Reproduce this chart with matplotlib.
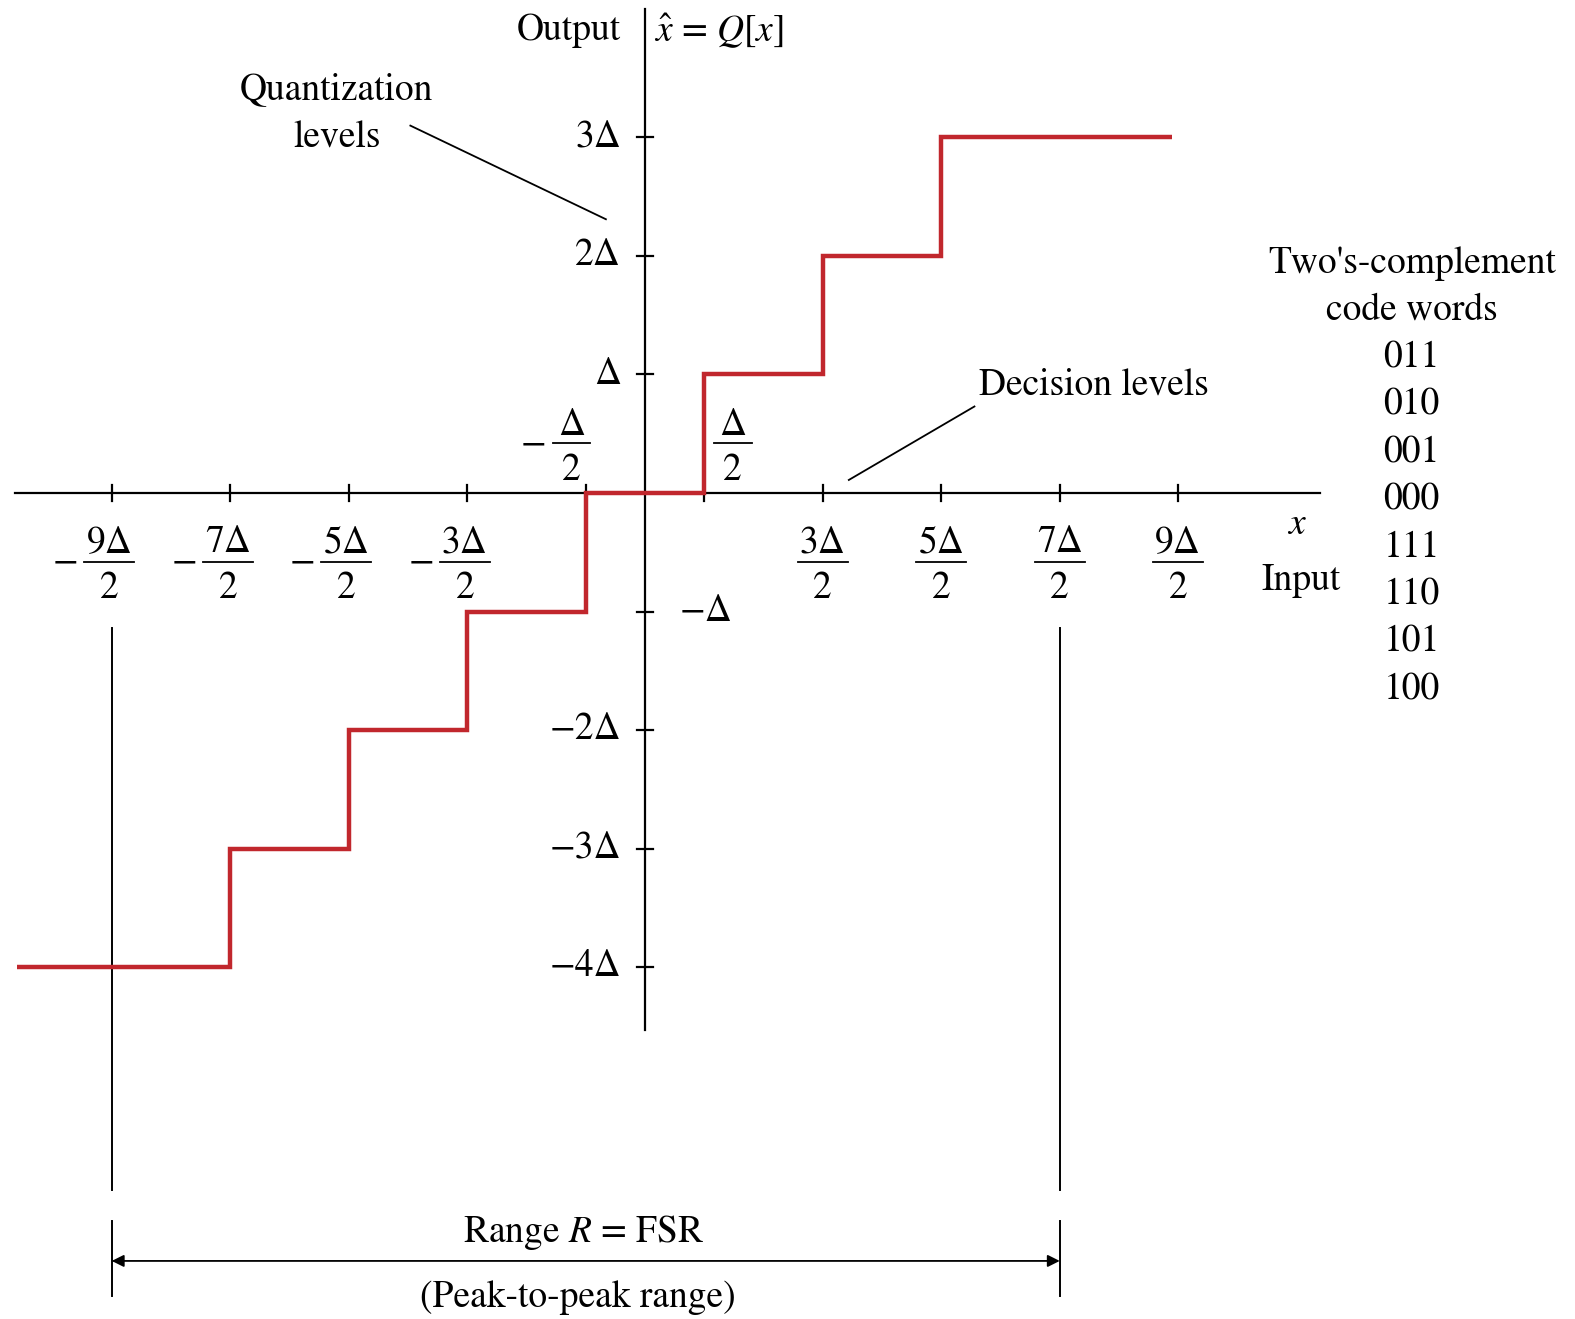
import matplotlib.pyplot as plt
import numpy as np

plt.rcParams['font.family'] = ['STIXGeneral', 'DejaVu Serif']
plt.rcParams['mathtext.fontset'] = 'stix'

# staircase of the quantizer (in units of Delta)
edges = [-5.3, -3.5, -2.5, -1.5, -0.5, 0.5, 1.5, 2.5, 4.45]
levels = [-4, -3, -2, -1, 0, 1, 2, 3]

# decision levels (x ticks) and quantization levels (y ticks)
x_ticks = [-4.5, -3.5, -2.5, -1.5, -0.5, 0.5, 1.5, 2.5, 3.5, 4.5]
x_numer = ['9Δ', '7Δ', '5Δ', '3Δ', 'Δ', 'Δ', '3Δ', '5Δ', '7Δ', '9Δ']
y_ticks = [3, 2, 1, -1, -2, -3, -4]
y_labels = ['3Δ', '2Δ', 'Δ', '−Δ', '−2Δ', '−3Δ', '−4Δ']
code_words = ['011', '010', '001', '000', '111', '110', '101', '100']

range_lo, range_hi = -4.5, 3.5

red = '#c1272d'
fs = 27

fig = plt.figure(figsize=(15.75, 13.19), dpi=100)
ax = fig.add_axes([0, 0, 1, 1])
ax.set_xlim(-5.443, 7.848)
ax.set_ylim(-6.97, 4.16)
ax.axis('off')


def fraction(xc, ybar, num, width, gap_top=0.08, gap_bot=0.31, neg=False):
    # stacked fraction: numerator / bar / 2
    ax.text(xc, ybar + gap_top, num, ha='center', va='baseline', fontsize=fs)
    ax.plot([xc - width / 2, xc + width / 2], [ybar, ybar], color='black', lw=1.3)
    ax.text(xc, ybar - gap_bot, '2', ha='center', va='baseline', fontsize=fs)
    if neg:
        ax.text(xc - width / 2 - 0.16, ybar - 0.085, '−', ha='center', va='baseline', fontsize=fs)


# axes lines
ax.plot([-5.32, 5.70], [0, 0], color='black', lw=1.6)
ax.plot([0, 0], [-4.53, 4.08], color='black', lw=1.6)

# ticks
for xt in x_ticks:
    ax.plot([xt, xt], [-0.07, 0.07], color='black', lw=1.6)
for yt in y_ticks:
    ax.plot([-0.07, 0.07], [yt, yt], color='black', lw=1.6)

# staircase
ax.stairs(levels, edges, baseline=None, color=red, lw=3.2, zorder=3)

# y tick labels
for yt, lab in zip(y_ticks, y_labels):
    if yt == -1:
        ax.text(0.29, yt, lab, ha='left', va='center', fontsize=fs)
    else:
        ax.text(-0.2, yt, lab, ha='right', va='center', fontsize=fs)

# x tick labels
for xt, num in zip(x_ticks, x_numer):
    if xt == -0.5:
        fraction(-0.62, 0.42, num, 0.32, gap_top=0.07, neg=True)
    elif xt == 0.5:
        fraction(0.74, 0.42, num, 0.32, gap_top=0.07)
    else:
        fraction(xt - (0.02 if xt < 0 else 0), -0.58, num, 0.42, neg=xt < 0)

# axis titles
ax.text(-0.2, 3.9, 'Output', ha='right', va='center', fontsize=fs)
ax.text(0.08, 3.9, r'$\hat{x}$ = $Q$[$x$]', ha='left', va='center', fontsize=fs)
ax.text(5.5, -0.27, r'$x$', ha='center', va='center', fontsize=fs)
ax.text(5.54, -0.74, 'Input', ha='center', va='center', fontsize=fs)

# annotations
ax.text(-2.6, 3.2, 'Quantization\nlevels', ha='center', va='center', fontsize=fs, linespacing=1.5)
ax.plot([-1.98, -0.33], [3.10, 2.31], color='black', lw=1.3)
ax.text(2.82, 0.91, 'Decision levels', ha='left', va='center', fontsize=fs)
ax.plot([2.78, 1.72], [0.73, 0.11], color='black', lw=1.3)

# code words
ax.text(6.47, 1.74, "Two's-complement\ncode words", ha='center', va='center', fontsize=fs, linespacing=1.45)
for i, cw in enumerate(code_words):
    ax.text(6.47, 1.14 - 0.4 * i, cw, ha='center', va='center', fontsize=fs)

# range markers
for xr in (range_lo, range_hi):
    ax.plot([xr, xr], [-1.14, -5.88], color='black', lw=1.4)
    ax.plot([xr, xr], [-6.14, -6.78], color='black', lw=1.4)
ax.annotate('', xy=(range_lo, -6.48), xytext=(range_hi, -6.48),
            arrowprops=dict(arrowstyle='<|-|>', color='black', lw=1.3,
                            mutation_scale=18, shrinkA=0, shrinkB=0))
ax.text(-0.52, -6.24, r'Range $R$ = FSR', ha='center', va='center', fontsize=fs)
ax.text(-0.57, -6.79, '(Peak-to-peak range)', ha='center', va='center', fontsize=fs)

fig.savefig('out.png', dpi=100)
